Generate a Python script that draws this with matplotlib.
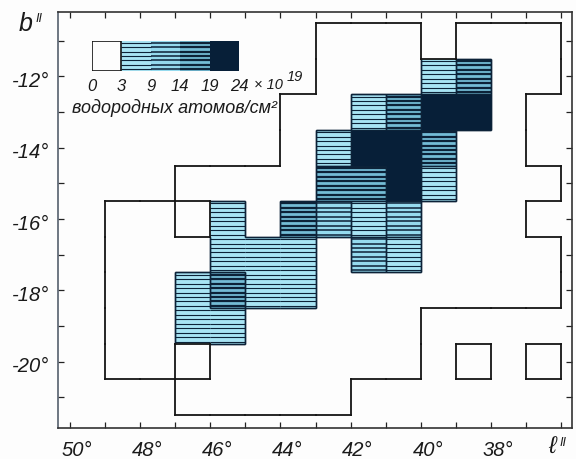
import matplotlib
matplotlib.use("Agg")
import matplotlib.pyplot as plt
from matplotlib.collections import LineCollection
from matplotlib.patches import Rectangle
from matplotlib.transforms import ScaledTranslation

# Grid of cells: '.' outside the surveyed area, 0 blank, 1-4 density classes
lon_edges = [49, 48, 47, 46, 45, 44, 43, 42, 41, 40, 39, 38, 37, 36]
lat_edges = [-10.5, -11.5, -12.5, -13.5, -14.5, -15.5, -16.5, -17.5, -18.5, -19.5, -20.5, -21.5]
density_rows = [
    "......000.000",
    "......0001300",
    ".....0013440.",
    ".....0144300.",
    "..00003341000",
    "00.103212000.",
    "0001110210000",
    "0013110000000",
    "001100000....",
    "00.000000.0.0",
    "..00000......",
]
x_major = [50, 48, 46, 44, 42, 40, 38]
y_major = [-12, -14, -16, -18, -20]
x_minor = list(range(36, 51))
y_minor = list(range(-21, -10))
legend_classes = [0, 1, 2, 3, 4]
legend_labels = ["0", "3", "9", "14", "19", "24"]
caption = "водородных атомов/см²"

INK = "#0c2238"
FILL = {1: "#a8e4f4", 2: "#95daee", 3: "#74bcd6", 4: "#071f38"}
LW = {1: 0.8, 2: 1.1, 3: 1.6}
HAND = {"family": ["Liberation Sans", "DejaVu Sans"], "style": "italic", "color": "#1a1a1a"}

W, H = 576, 460
fig = plt.figure(figsize=(W / 100, H / 100), dpi=100, facecolor="#fdfdfd")


def px_axes(l, t, r, b):
    return fig.add_axes([l / W, 1 - b / H, (r - l) / W, (b - t) / H])


def draw_cell(ax, x0, x1, y0, y1, level, lines):
    if level == 0:
        return
    lo, hi = min(x0, x1), max(x0, x1)
    yl, yh = min(y0, y1), max(y0, y1)
    ax.add_patch(Rectangle((lo, yl), hi - lo, yh - yl, fc=FILL[level], ec="none", zorder=2))
    if level < 4:
        ys = [yl + (yh - yl) * (k + 0.5) / lines for k in range(lines)]
        ax.hlines(ys, lo, hi, color=INK, lw=LW[level], zorder=3)


ax = px_axes(58, 13, 572, 429)
ax.set_facecolor("#fdfdfd")
ax.set_xlim(50.34, 35.69)
ax.set_ylim(-21.865, -10.19)

outer, inner = [], []
n_rows, n_cols = len(density_rows), len(density_rows[0])


def cell(r, c):
    if 0 <= r < n_rows and 0 <= c < n_cols:
        return density_rows[r][c]
    return "."


for r, row in enumerate(density_rows):
    for c, ch in enumerate(row):
        if ch == ".":
            continue
        x0, x1 = lon_edges[c], lon_edges[c + 1]
        y0, y1 = lat_edges[r], lat_edges[r + 1]
        draw_cell(ax, x0, x1, y0, y1, int(ch), 8)
        for other, seg in (
            (cell(r - 1, c), [(x0, y0), (x1, y0)]),
            (cell(r + 1, c), [(x0, y1), (x1, y1)]),
            (cell(r, c - 1), [(x0, y0), (x0, y1)]),
            (cell(r, c + 1), [(x1, y0), (x1, y1)]),
        ):
            if other == ".":
                outer.append(seg)
            elif other != ch:
                inner.append(seg)
ax.add_collection(LineCollection(inner, colors=INK, linewidths=1.0, zorder=4))
ax.add_collection(LineCollection(outer, colors="#151515", linewidths=1.3, capstyle="projecting", zorder=5))

ax.set_xticks(x_minor, minor=True)
ax.set_yticks(y_minor, minor=True)
ax.set_xticks(x_major)
ax.set_yticks(y_major)
ax.set_xticklabels([f"{v}°" for v in x_major], fontsize=14.5, **HAND)
ax.set_yticklabels([f"-{abs(v)}°" for v in y_major], fontsize=14.5, **HAND)
ax.tick_params(which="both", direction="in", length=4, width=0.9, top=True, right=True, color="#222222")
ax.tick_params(axis="x", which="major", pad=9)
ax.tick_params(axis="y", which="major", pad=6)
x_shift = ScaledTranslation(7 / 100, 0, fig.dpi_scale_trans)
y_shift = ScaledTranslation(0, -2 / 100, fig.dpi_scale_trans)
for lab in ax.get_xticklabels():
    lab.set_transform(lab.get_transform() + x_shift)
for lab in ax.get_yticklabels():
    lab.set_transform(lab.get_transform() + y_shift)
for name, sp in ax.spines.items():
    sp.set_linewidth(1.2)
    sp.set_color("#333333" if name != "left" else "#55606e")

# Legend strip
lg = px_axes(92, 42, 239, 72)
lg.set_xlim(0, len(legend_classes))
lg.set_ylim(0, 1)
lg.patch.set_alpha(0)
for i, lev in enumerate(legend_classes):
    draw_cell(lg, i, i + 1, 0, 1, lev, 7)
lg.add_patch(Rectangle((0, 0), 1, 1, fc="none", ec="#151515", lw=1.2, zorder=4))
for sp in lg.spines.values():
    sp.set_visible(False)
lg.set_yticks([])
lg.set_xticks(range(len(legend_labels)))
lg.set_xticklabels(legend_labels, fontsize=12, **HAND)
lg.tick_params(axis="x", length=0, pad=5)


def px_text(x, y, s, size, **kw):
    fig.text(x / W, 1 - y / H, s, fontsize=size, va="center", **HAND, **kw)


px_text(254, 85, "× 10", 10.5)
px_text(287, 77, "19", 10.5)
px_text(72, 108, caption, 13)
px_text(19, 24, "b", 18)
px_text(35, 19, "II", 9)
px_text(548, 447, "ℓ", 17)
px_text(560, 443, "II", 9)

fig.savefig("out.png", dpi=100, facecolor=fig.get_facecolor())
